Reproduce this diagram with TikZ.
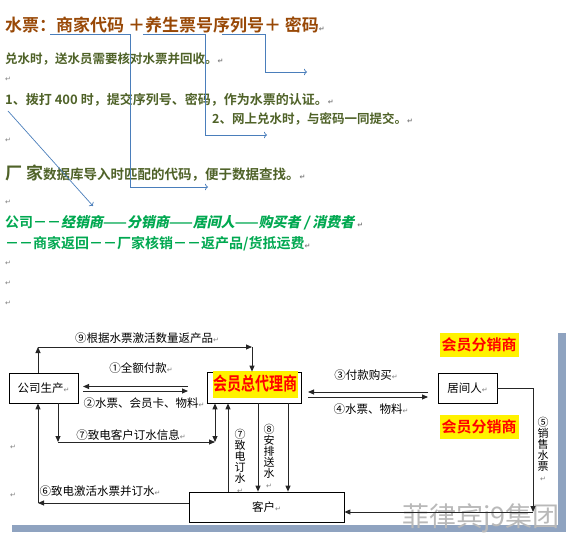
\documentclass[tikz,border=0pt]{standalone}
\usepackage{fontspec}
\setmainfont{Noto Sans CJK SC}[BoldFont={Noto Sans CJK SC Bold}]
\newfontfamily\markfont{DejaVu Sans}
\newfontfamily\slantfont[FakeSlant=0.2]{Noto Sans CJK SC Bold}
\usetikzlibrary{arrows.meta}
\definecolor{titlebrown}{RGB}{152,72,6}
\definecolor{olivetext}{RGB}{79,98,40}
\definecolor{leafgreen}{RGB}{0,168,80}
\definecolor{linkblue}{RGB}{74,126,187}
\definecolor{barblue}{RGB}{143,163,192}
\definecolor{markgray}{RGB}{125,125,125}
\newcommand\fsz[1]{\fontsize{#1}{#1}\selectfont}
\newcommand\enter{{\markfont\color{markgray}\fontsize{7}{7}\selectfont ↵}}
\begin{document}
\begin{tikzpicture}[x=1pt, y=-1pt,
  line/.style = {anchor=west, inner sep=0pt},
  note/.style = {line, text=olivetext, font=\bfseries\fsz{12.5}},
  chain/.style = {line, text=leafgreen, font=\bfseries\fsz{14}},
  link/.style = {draw=linkblue, line width=0.7pt, -{To[length=3pt]}},
  box/.style = {draw, line width=0.7pt, fill=white, inner sep=0pt,
    minimum height=30, font=\fsz{11.5}},
  lab/.style = {inner sep=0pt, font=\fsz{11.5}},
  vlab/.style = {inner sep=0pt, align=center, font=\fsz{11}},
  hl/.style = {fill=yellow, text=red, inner ysep=0pt},
  arr/.style = {draw=black!85, line width=0.9pt, -{Triangle[length=6pt,width=5pt]}},
  dbl/.style = {arr, {Triangle[length=6pt,width=5pt]}-{Triangle[length=6pt,width=5pt]}}]
  \useasboundingbox (0,0) rectangle (581,545);

  \node[line, text=titlebrown, font=\bfseries\fsz{17}] (title) at (5,25)
    {水票：商家代码 ＋养生票号序列号＋ 密码\enter};
  \node[note] (duishui) at (5,59) {兑水时，送水员需要核对水票并回收。\enter};
  \node[line] (e1) at (5,79) {\enter};
  \node[note, font=\bfseries\fsz{13}] (tel) at (5,100)
    {1、拨打 400 时，提交序列号、密码，作为水票的认证。\enter};
  \node[note] (web) at (212,119) {2、网上兑水时，与密码一同提交。\enter};
  \node[line] (e2) at (5,140) {\enter};
  \node[note, font=\bfseries\fsz{13.5}] (factory) at (5,173)
    {{\fsz{17}厂 家}数据库导入时匹配的代码，便于数据查找。\enter};
  \node[line] (e3) at (5,202) {\enter};
  \node[chain] (chain1) at (5,223)
    {公司－－{\slantfont 经销商}——{\slantfont 分销商}——{\slantfont 居间人}——{\slantfont 购买者 / 消费者}\hspace{3pt}\enter};
  \node[chain] (chain2) at (5,244) {－－商家返回－－厂家核销－－返产品/货抵运费\enter};
  \node[line] (e4) at (5,263) {\enter};
  \node[line] (e5) at (5,283) {\enter};
  \node[line] (e6) at (5,303) {\enter};

  \coordinate (u1a) at (50,34);  \coordinate (u1b) at (130,34);  \coordinate (u1e) at (208,187);
  \coordinate (u2a) at (143,34); \coordinate (u2b) at (205,34);  \coordinate (u2e) at (267,135);
  \coordinate (u3a) at (222,34); \coordinate (u3b) at (265,34);  \coordinate (u3e) at (307,72);
  \coordinate (d1) at (8,111);   \coordinate (d2) at (93,206);
  \draw[link] (u1a) -- (u1b) |- (u1e);
  \draw[link] (u2a) -- (u2b) |- (u2e);
  \draw[link] (u3a) -- (u3b) |- (u3e);
  \draw[link] (d1) -- (d2);

  \fill[barblue] (12,525) rectangle (566,532);
  \fill[barblue] (558,333) rectangle (566,532);
  \node[text=gray!55, font=\fsz{27}] (mark) at (481,518) {菲律宾j9集团};

  \node[line] (e7) at (10,447) {\enter};
  \node[line] (e8) at (10,495) {\enter};

  \node[box, minimum width=69] (gs) at (43.5,388) {公司生产\enter};
  \node[box, minimum width=94, minimum height=31] (zd) at (254,387.5) {};
  \node[hl, font=\bfseries\fsz{14}, minimum height=27, inner xsep=0.5pt] (zdname) at (255.5,384)
    {\scalebox{1}[1.3]{会员总代理商}};
  \node[box, minimum width=59] (jj) at (467.5,388) {居间人\enter};
  \node[box, minimum width=155] (kh) at (266.5,507) {客户\enter};
  \node[hl, font=\bfseries\fsz{15}, minimum height=24, inner xsep=2pt] (fx1) at (479,345) {会员分销商};
  \node[hl, font=\bfseries\fsz{15}, minimum height=24, inner xsep=2pt] (fx2) at (479,426.5) {会员分销商};

  \coordinate (p9a) at (38,347); \coordinate (p9b) at (252,347);
  \draw[arr] (p9a |- gs.north) -- (p9a);
  \draw[arr] (p9a) -- (p9b);
  \draw[arr] (p9b) -- (p9b |- zd.north);
  \node[lab] (l9) at (147,338) {⑨根据水票激活数量返产品\enter};

  \coordinate (p1a) at (188,386.5); \coordinate (p1b) at (83,386.5);
  \coordinate (p2a) at (83,391);    \coordinate (p2b) at (188,391);
  \draw[arr] (p1a) -- (p1b);
  \draw[arr] (p2a) -- (p2b);
  \node[lab] (l1) at (141,368) {①全额付款\enter};
  \node[lab] (l2) at (144,403) {②水票、会员卡、物料\enter};

  \coordinate (p7a) at (58,442); \coordinate (p7b) at (215,442);
  \draw[arr] (p7a |- gs.south) -- (p7a);
  \draw[arr] (p7a) -- (p7b);
  \draw[dbl] (p7b) -- (p7b |- zd.south);
  \node[lab] (l7) at (131,435) {⑦致电客户订水信息\enter};

  \coordinate (p7c) at (228,450); \coordinate (p8a) at (258,450); \coordinate (p8b) at (288,450);
  \draw[arr] (p7c |- kh.north) -- (p7c |- zd.south);
  \draw[arr] (p8a |- zd.south) -- (p8a |- kh.north);
  \draw[arr] (p8b |- zd.south) -- (p8b |- kh.north);
  \node[vlab] (l7v) at (240,461) {⑦\\致\\电\\订\\水\\\enter};
  \node[vlab] (l8v) at (269,456) {⑧\\安\\排\\送\\水\\\enter};

  \coordinate (p6) at (38,503);
  \draw[arr] (p6 -| kh.west) -- (p6);
  \draw[arr] (p6) -- (p6 |- gs.south);
  \node[lab] (l6) at (100,491) {⑥致电激活水票并订水\enter};

  \coordinate (p3a) at (428,392); \coordinate (p3b) at (308,392);
  \coordinate (p4a) at (308,397); \coordinate (p4b) at (428,397);
  \draw[arr] (p3a) -- (p3b);
  \draw[arr] (p4a) -- (p4b);
  \node[lab] (l3) at (366,375) {③付款购买\enter};
  \node[lab] (l4) at (371,409) {④水票、物料\enter};

  \coordinate (p5) at (533,512);
  \draw[arr] (jj.east) -| (p5);
  \draw[arr] (p5) -- (p5 -| kh.east);
  \node[vlab] (l5v) at (543,449) {⑤\\销\\售\\水\\票\\\enter};
\end{tikzpicture}
\end{document}
